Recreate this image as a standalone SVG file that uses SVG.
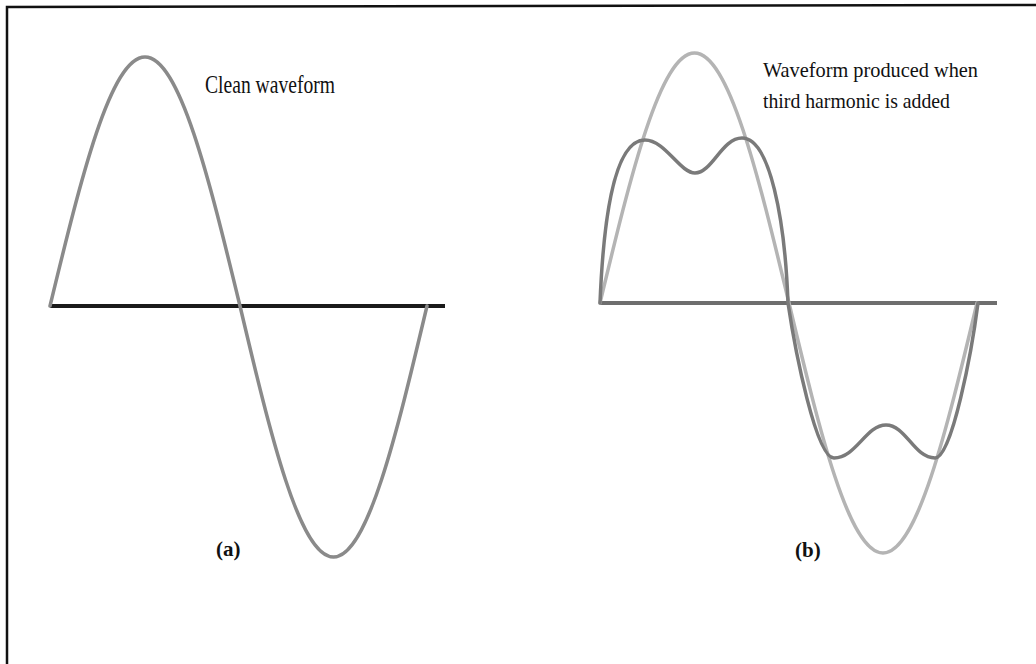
<svg xmlns="http://www.w3.org/2000/svg" width="1036" height="664" viewBox="0 0 1036 664">
<style>
.frame{fill:none;stroke:#111;stroke-width:2.5}
.axisA{stroke:#1a1a1a;stroke-width:4;fill:none;stroke-linecap:butt}
.axisB{stroke:#6e6e6e;stroke-width:4;fill:none}
.clean{fill:none;stroke:#8a8a8a;stroke-width:3.5;stroke-linejoin:round;stroke-linecap:round}
.fund{fill:none;stroke:#b4b4b4;stroke-width:3.5;stroke-linejoin:round;stroke-linecap:round}
.dist{fill:none;stroke:#7a7a7a;stroke-width:3.5;stroke-linejoin:round;stroke-linecap:round}
.lbl{font-family:"Liberation Serif","Times New Roman",serif;fill:#111}
.cap{font-family:"Liberation Serif","Times New Roman",serif;fill:#111;font-weight:bold;font-size:21px}
</style>
<rect width="1036" height="664" fill="#ffffff"/>
<polyline class="frame" points="7,664 7,7 1036,5"/>
<g id="panel-a">
  <line class="axisA" x1="50" y1="306" x2="445" y2="306"/>
  <path class="clean" d="M50,306 C80.97,178.4 110.6,57 145,57 C179.4,57 209.03,178.4 240,306 C270.48,434.6 299.65,557 333.5,557 C367.35,557 396.52,434.6 427,306"/>
  <text class="lbl" x="205" y="93" font-size="25" textLength="130" lengthAdjust="spacingAndGlyphs">Clean waveform</text>
  <text class="cap" x="216" y="556">(a)</text>
</g>
<g id="panel-b">
  <line class="axisB" x1="600" y1="303" x2="997" y2="303"/>
  <path class="fund" d="M600,303 C630.8,174.9 660.3,53 694.5,53 C728.7,53 758.2,174.9 789,303 C819.6,431.1 849,553 883,553 C917,553 946.4,431.1 977,303"/>
  <path class="dist" d="M600,303 C603,230 612,140 645,140 C665,140 680,173 695,173 C712,173 722,138 742,138 C770,138 785,220 788,303 C795,350 816,458 834,458 C856,458 866,425 886,425 C906,425 914,458 935,458 C952,458 972,350 978,303"/>
  <text class="lbl" x="763" y="77" font-size="22" textLength="215" lengthAdjust="spacingAndGlyphs">Waveform produced when</text>
  <text class="lbl" x="763" y="108" font-size="22" textLength="187" lengthAdjust="spacingAndGlyphs">third harmonic is added</text>
  <text class="cap" x="795" y="557">(b)</text>
</g>
</svg>
